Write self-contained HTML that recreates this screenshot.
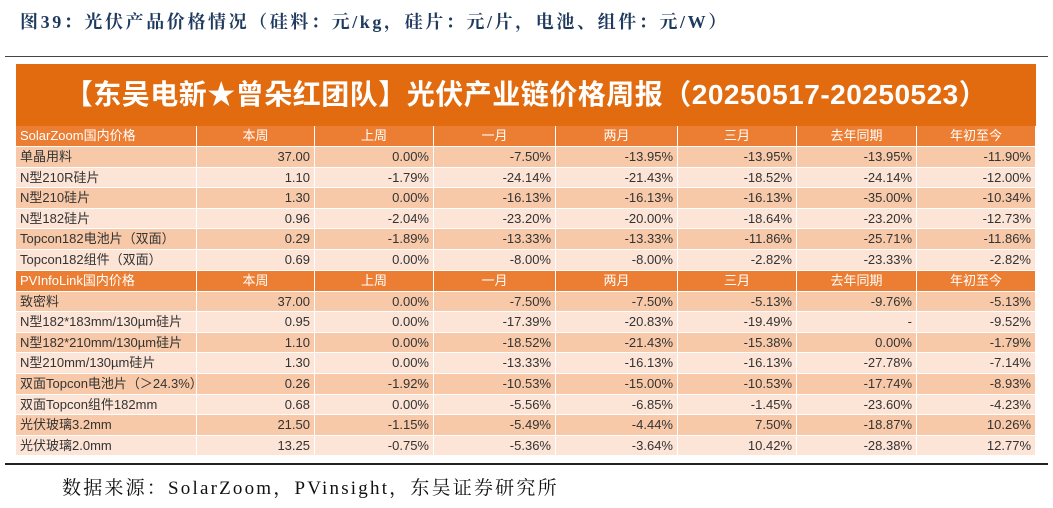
<!DOCTYPE html>
<html><head><meta charset="utf-8">
<style>
body{margin:0;width:1053px;height:508px;background:#fff;position:relative;overflow:hidden;font-family:"Liberation Sans","Noto Sans CJK SC",sans-serif;}
.abs{position:absolute;}
#caption{left:20px;top:8px;font-family:"Liberation Serif","Noto Serif CJK SC",serif;font-weight:bold;font-size:18px;letter-spacing:2.6px;color:#1f3a5f;white-space:nowrap;}
#rule-top{left:5px;top:56px;width:1043px;height:1px;background:#444;}
#rule-bot{left:5px;top:463px;width:1043px;height:2px;background:#222;}
#band{left:16px;top:64px;width:1020px;height:62px;background:#e16b0e;color:#fff;font-size:28px;font-weight:bold;line-height:62px;text-align:center;white-space:nowrap;letter-spacing:0.5px;font-family:"Liberation Sans","Noto Sans CJK SC",sans-serif;}
.cell{position:absolute;box-sizing:border-box;font-size:13px;color:#333;white-space:nowrap;padding:0 4px;border-right:1px solid #fff;border-bottom:1px solid #fff;overflow:hidden;}
.hdr{background:#ec7e33;color:#fff;text-align:center;}
.hdr.first{text-align:left;}
.odd{background:#f7c9a8;}
.even{background:#fce4d6;}
.num{text-align:right;}
#source{left:62px;top:473px;font-family:"Liberation Serif","Noto Serif CJK SC",serif;font-size:19px;letter-spacing:2.2px;color:#111;white-space:nowrap;}
</style></head><body>
<div id="caption" class="abs">图39：光伏产品价格情况（硅料：元/kg，硅片：元/片，电池、组件：元/W）</div>
<div id="rule-top" class="abs"></div>
<div id="band" class="abs">【东吴电新★曾朵红团队】光伏产业链价格周报（20250517-20250523）</div>
<div id="tbl"></div>
<div id="rule-bot" class="abs"></div>
<div id="source" class="abs">数据来源：SolarZoom，PVinsight，东吴证券研究所</div>
<script>
const colHeads=["本周","上周","一月","两月","三月","去年同期","年初至今"];
const sec1Title="SolarZoom国内价格";
const sec1Names=["单晶用料","N型210R硅片","N型210硅片","N型182硅片","Topcon182电池片（双面）","Topcon182组件（双面）"];
const sec1Vals=[
["37.00","0.00%","-7.50%","-13.95%","-13.95%","-13.95%","-11.90%"],
["1.10","-1.79%","-24.14%","-21.43%","-18.52%","-24.14%","-12.00%"],
["1.30","0.00%","-16.13%","-16.13%","-16.13%","-35.00%","-10.34%"],
["0.96","-2.04%","-23.20%","-20.00%","-18.64%","-23.20%","-12.73%"],
["0.29","-1.89%","-13.33%","-13.33%","-11.86%","-25.71%","-11.86%"],
["0.69","0.00%","-8.00%","-8.00%","-2.82%","-23.33%","-2.82%"]];
const sec2Title="PVInfoLink国内价格";
const sec2Names=["致密料","N型182*183mm/130µm硅片","N型182*210mm/130µm硅片","N型210mm/130µm硅片","双面Topcon电池片（＞24.3%）","双面Topcon组件182mm","光伏玻璃3.2mm","光伏玻璃2.0mm"];
const sec2Vals=[
["37.00","0.00%","-7.50%","-7.50%","-5.13%","-9.76%","-5.13%"],
["0.95","0.00%","-17.39%","-20.83%","-19.49%","-","-9.52%"],
["1.10","0.00%","-18.52%","-21.43%","-15.38%","0.00%","-1.79%"],
["1.30","0.00%","-13.33%","-16.13%","-16.13%","-27.78%","-7.14%"],
["0.26","-1.92%","-10.53%","-15.00%","-10.53%","-17.74%","-8.93%"],
["0.68","0.00%","-5.56%","-6.85%","-1.45%","-23.60%","-4.23%"],
["21.50","-1.15%","-5.49%","-4.44%","7.50%","-18.87%","10.26%"],
["13.25","-0.75%","-5.36%","-3.64%","10.42%","-28.38%","12.77%"]];
const colX=[16,197,315,434,556,678,797,917,1036];
const tbl=document.getElementById('tbl');
let y=126;
const rh=20.6;
function mk(x,w,top,h,cls,txt){
  const d=document.createElement('div');
  d.className='cell '+cls;
  d.style.left=x+'px';d.style.width=w+'px';d.style.top=top+'px';d.style.height=h+'px';
  d.style.lineHeight=(h-1)+'px';
  d.textContent=txt;
  tbl.appendChild(d);
  return d;
}
function section(title,names,vals){
  const hh=21;
  let d=mk(colX[0],colX[1]-colX[0],y,hh,'hdr first',title);
  
  
  for(let c=0;c<7;c++){
    d=mk(colX[c+1],colX[c+2]-colX[c+1],y,hh,'hdr',colHeads[c]);
    
    
  }
  y+=hh;
  names.forEach((n,r)=>{
    const cls=r%2===0?'odd':'even';
    const top=Math.round(y), h=Math.round(y+rh)-top;
    let e=mk(colX[0],colX[1]-colX[0],top,h,cls,n);
    
    
    for(let c=0;c<7;c++){
      e=mk(colX[c+1],colX[c+2]-colX[c+1],top,h,cls+' num',vals[r][c]);
      
      
    }
    y+=rh;
  });
}
section(sec1Title,sec1Names,sec1Vals);
y=270.5;
section(sec2Title,sec2Names,sec2Vals);
</script>
</body></html>
